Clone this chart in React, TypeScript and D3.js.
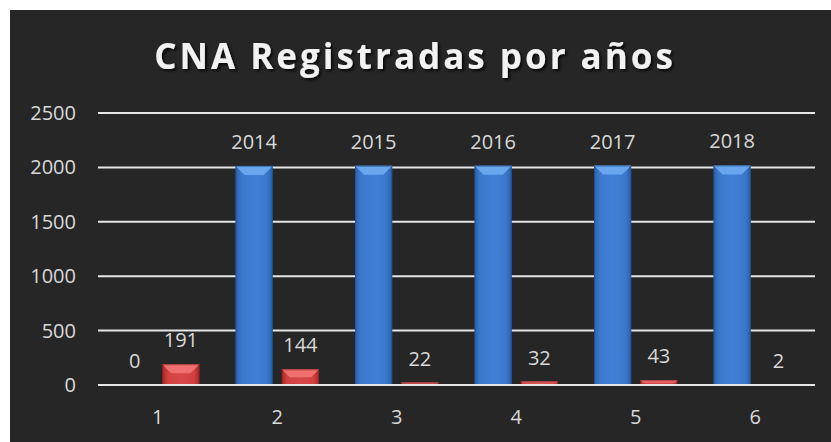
import React, { useEffect, useRef } from 'react';
import * as d3 from 'd3';

const categories = ['1', '2', '3', '4', '5', '6'];
const seriesA = [0, 2014, 2015, 2016, 2017, 2018];
const seriesB = [191, 144, 22, 32, 43, 2];
const yTicks = [0, 500, 1000, 1500, 2000, 2500];
const title = 'CNA Registradas por años';

const W = 831;
const H = 442;

const App: React.FC = () => {
  const svgRef = useRef<SVGSVGElement>(null);

  useEffect(() => {
    if (!svgRef.current) return;
    const svg = d3.select(svgRef.current);
    svg.selectAll('*').remove();

    const font = '"Open Sans", sans-serif';
    const plot = { left: 98, right: 815, top: 113, bottom: 385 };

    const defs = svg.append('defs');
    const grad = (id: string, stops: [number, string][]) => {
      const g = defs.append('linearGradient').attr('id', id)
        .attr('x1', '0').attr('x2', '1').attr('y1', '0').attr('y2', '0');
      stops.forEach(([o, c]) => g.append('stop').attr('offset', o).attr('stop-color', c));
    };
    grad('blueBody', [[0, '#2a5fa8'], [0.15, '#3a78cc'], [0.5, '#3f80d6'], [0.85, '#3a78cc'], [1, '#2a5fa8']]);
    grad('redBody', [[0, '#a82828'], [0.15, '#d34040'], [0.5, '#d84848'], [0.85, '#d34040'], [1, '#a82828']]);
    const shadow = defs.append('filter').attr('id', 'tshadow')
      .attr('x', '-10%').attr('y', '-20%').attr('width', '120%').attr('height', '160%');
    shadow.append('feDropShadow').attr('dx', 2).attr('dy', 2).attr('stdDeviation', 1.5)
      .attr('flood-color', '#000').attr('flood-opacity', 0.8);

    // background
    svg.append('rect').attr('x', 10).attr('y', 10).attr('width', W - 10).attr('height', H - 10)
      .attr('fill', '#262626');

    svg.append('text')
      .attr('x', 415).attr('y', 69)
      .attr('text-anchor', 'middle')
      .attr('font-family', font).attr('font-weight', 700)
      .attr('font-size', 35).attr('letter-spacing', 3)
      .attr('fill', '#f2f2f2')
      .attr('filter', 'url(#tshadow)')
      .text(title);

    const x = d3.scaleBand().domain(categories).range([plot.left, plot.right]);
    const inner = d3.scaleBand().domain(['a', 'b'])
      .range([18, x.bandwidth() - 18]).paddingInner(9 / 46);
    const y = d3.scaleLinear().domain([0, 2500]).range([plot.bottom, plot.top]);

    // gridlines
    svg.append('g').selectAll('line').data(yTicks).join('line')
      .attr('x1', plot.left).attr('x2', plot.right)
      .attr('y1', d => y(d)).attr('y2', d => y(d))
      .attr('stroke', '#e6e6e6').attr('stroke-width', 2);

    svg.append('g').selectAll('text').data(yTicks).join('text')
      .attr('x', 76).attr('y', d => y(d))
      .attr('dy', '0.35em')
      .attr('text-anchor', 'end')
      .attr('font-family', font).attr('font-size', 20)
      .attr('fill', '#d9d9d9')
      .text(d => d);

    svg.append('g').selectAll('text').data(categories).join('text')
      .attr('x', d => (x(d) as number) + x.bandwidth() / 2).attr('y', 424)
      .attr('text-anchor', 'middle')
      .attr('font-family', font).attr('font-size', 20)
      .attr('fill', '#d9d9d9')
      .text(d => d);

    const drawSeries = (key: string, vals: number[], body: string, top: string, edge: string) => {
      const g = svg.append('g');
      vals.forEach((v, i) => {
        const x0 = (x(categories[i]) as number) + (inner(key) as number);
        const bw = inner.bandwidth();
        const y0 = y(v);
        const h = y(0) - y0;
        if (h > 0) {
          g.append('rect').attr('x', x0).attr('y', y0).attr('width', bw).attr('height', h)
            .attr('fill', `url(#${body})`);
          const bev = Math.min(9, h / 2);
          g.append('path')
            .attr('d', `M${x0},${y0} L${x0 + bw},${y0} L${x0 + bw - bev},${y0 + bev} L${x0 + bev},${y0 + bev} Z`)
            .attr('fill', top);
          g.append('rect').attr('x', x0 + 0.5).attr('y', y0 + 0.5).attr('width', bw - 1).attr('height', h - 1)
            .attr('fill', 'none').attr('stroke', edge).attr('stroke-width', 1).attr('opacity', 0.6);
        }
        g.append('text')
          .attr('x', x0 + bw / 2).attr('y', y0 - 17)
          .attr('text-anchor', 'middle')
          .attr('font-family', font).attr('font-size', 20)
          .attr('fill', '#d9d9d9')
          .text(v);
      });
    };

    drawSeries('a', seriesA, 'blueBody', '#6aa6ee', '#1f4c8a');
    drawSeries('b', seriesB, 'redBody', '#f07070', '#8e1c1c');

    // zero line drawn over bars
    svg.append('line')
      .attr('x1', plot.left).attr('x2', plot.right)
      .attr('y1', y(0)).attr('y2', y(0))
      .attr('stroke', '#e6e6e6').attr('stroke-width', 2);
  }, []);

  return (
    <svg ref={svgRef} width={W} height={H}
      style={{ position: 'absolute', left: 0, top: 0, display: 'block' }} />
  );
};

export default App;
